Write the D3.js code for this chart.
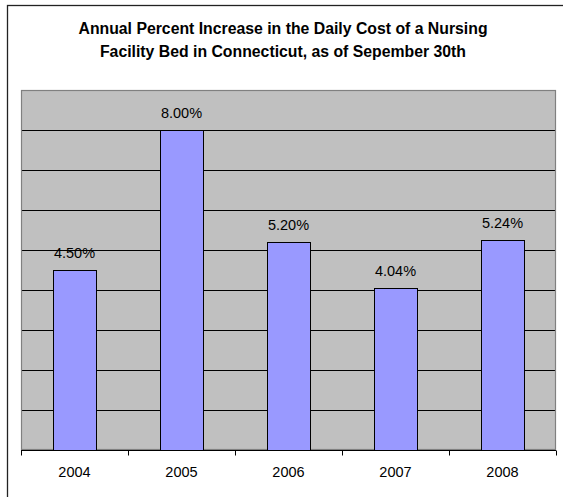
<!DOCTYPE html>
<html><head><meta charset="utf-8">
<script src="https://cdn.jsdelivr.net/npm/d3@7"></script>
<style>html,body{margin:0;padding:0;background:#fff;}svg{display:block;}</style>
</head><body>
<svg id="c" width="563" height="497"></svg>
<script>
const categories = ["2004","2005","2006","2007","2008"];
const values = [4.50, 8.00, 5.20, 4.04, 5.24];
const valueLabels = ["4.50%","8.00%","5.20%","4.04%","5.24%"];
const yTicks = [0,1,2,3,4,5,6,7,8,9];
const titleLines = ["Annual Percent Increase in the Daily Cost of a Nursing","Facility Bed in Connecticut, as of Sepember 30th"];

const svg = d3.select("#c");
const font = "'Liberation Sans', Arial, sans-serif";
// outer chart border
svg.append("rect").attr("x",7.5).attr("y",5.5).attr("width",600).attr("height",600)
  .attr("fill","#fff").attr("stroke","#222").attr("stroke-width",1.3);

const L=21, R=556, T=90, B=450;
const x = d3.scaleBand().domain(categories).range([L,R]).paddingInner(0.6).paddingOuter(0.3);
const y = d3.scaleLinear().domain([0,9]).range([B,T]);

svg.append("rect").attr("x",L).attr("y",T).attr("width",R-L).attr("height",B-T)
  .attr("fill","#C0C0C0");

svg.append("g").selectAll("line").data(yTicks.filter(d=>d>0 && d<9)).join("line")
  .attr("x1",L).attr("x2",R).attr("y1",d=>Math.round(y(d))+0.5).attr("y2",d=>Math.round(y(d))+0.5)
  .attr("stroke","#000").attr("stroke-width",1);

// plot border (gray)
svg.append("rect").attr("x",L+0.5).attr("y",T+0.5).attr("width",R-L-1).attr("height",B-T-1)
  .attr("fill","none").attr("stroke","#808080").attr("stroke-width",1.2);

svg.append("g").selectAll("rect").data(values).join("rect")
  .attr("x",(d,i)=>Math.round(x(categories[i]))+0.5)
  .attr("y",d=>Math.round(y(d))+0.5)
  .attr("width",Math.round(x.bandwidth()))
  .attr("height",d=>Math.round(y(0))-Math.round(y(d)))
  .attr("fill","#9999FF").attr("stroke","#000").attr("stroke-width",1);

// x axis
const xAxis = svg.append("g").attr("transform",`translate(0,${B+0.5})`);
xAxis.append("line").attr("x1",L).attr("x2",R).attr("stroke","#000").attr("stroke-width",1.2);
const bounds = d3.range(categories.length+1).map(i=>L + i*x.step());
xAxis.selectAll("line.t").data(bounds).join("line").attr("class","t")
  .attr("x1",d=>Math.round(d)+0.5).attr("x2",d=>Math.round(d)+0.5).attr("y1",0).attr("y2",5)
  .attr("stroke","#000").attr("stroke-width",1);
svg.append("g").selectAll("text").data(categories).join("text")
  .attr("x",d=>x(d)+x.bandwidth()/2).attr("y",477)
  .attr("text-anchor","middle").attr("font-family",font).attr("font-size",14.5).attr("fill","#000")
  .text(d=>d);

svg.append("g").selectAll("text").data(values).join("text")
  .attr("x",(d,i)=>x(categories[i])+x.bandwidth()/2).attr("y",d=>y(d)-12.5)
  .attr("text-anchor","middle").attr("font-family",font).attr("font-size",14.5).attr("fill","#000")
  .text((d,i)=>valueLabels[i]);

svg.append("g").selectAll("text").data(titleLines).join("text")
  .attr("x",283).attr("y",(d,i)=>34+i*22.5)
  .attr("text-anchor","middle").attr("font-family",font).attr("font-weight","bold").attr("font-size",15.8)
  .attr("fill","#000").text(d=>d);
</script>
</body></html>
